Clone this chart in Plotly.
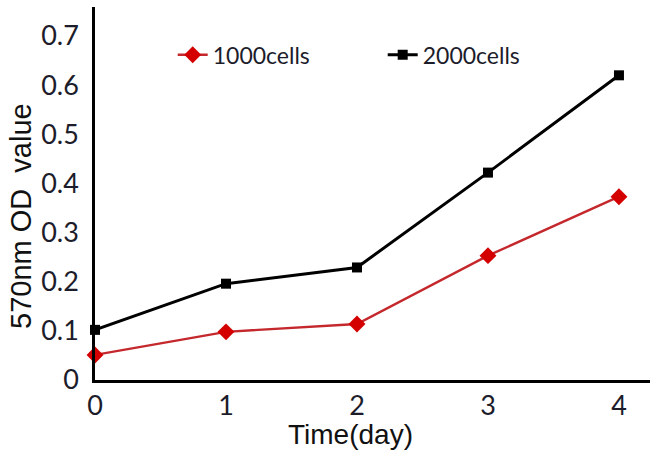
import plotly.graph_objects as go

days = [0, 1, 2, 3, 4]
cells_1000 = [0.051, 0.098, 0.114, 0.253, 0.373]
cells_2000 = [0.102, 0.196, 0.229, 0.422, 0.620]
y_ticks = [0, 0.1, 0.2, 0.3, 0.4, 0.5, 0.6, 0.7]
y_tick_labels = ["0", "0.1", "0.2", "0.3", "0.4", "0.5", "0.6", "0.7"]
x_ticks = [0, 1, 2, 3, 4]

fig = go.Figure()
fig.add_trace(go.Scatter(
    x=days, y=cells_1000, name="1000cells", mode="lines+markers",
    line=dict(color="#c4282c", width=2.4),
    marker=dict(symbol="diamond", size=13, color="#d40000"),
    cliponaxis=False,
))
fig.add_trace(go.Scatter(
    x=days, y=cells_2000, name="2000cells", mode="lines+markers",
    line=dict(color="#000000", width=3),
    marker=dict(symbol="square", size=10, color="#000000"),
    cliponaxis=False,
))

tick_font = dict(family="Lato, 'Open Sans', sans-serif", size=27, color="#1c1c2a")

fig.update_layout(
    width=652, height=454,
    margin=dict(l=95, r=2, t=7, b=74),
    plot_bgcolor="white", paper_bgcolor="white",
    showlegend=True,
    legend=dict(
        orientation="h", x=0.14, xanchor="left", y=0.872, yanchor="middle",
        font=dict(family="Lato, 'Open Sans', sans-serif", size=23, color="#1c1c2a"),
        entrywidth=165, entrywidthmode="pixels",
        bgcolor="rgba(0,0,0,0)",
    ),
    xaxis=dict(
        range=[0, 4.237], tickvals=x_ticks, ticktext=[str(v) for v in x_ticks],
        showline=True, linecolor="black", linewidth=2.5, showgrid=False, zeroline=False,
        ticks="", tickfont=tick_font, ticklabelstandoff=0,
    ),
    yaxis=dict(
        range=[0, 0.759], tickvals=y_ticks, ticktext=y_tick_labels,
        showline=True, linecolor="black", linewidth=2.5, showgrid=False, zeroline=False,
        ticks="", tickfont=tick_font, ticklabelstandoff=8,
    ),
    annotations=[
        dict(text="Time(day)", xref="paper", yref="paper",
             x=(350 - 95) / 555, y=-(434 - 380) / 373, xanchor="center", yanchor="middle",
             showarrow=False, font=dict(family="Liberation Sans, Arial, sans-serif", size=28, color="#111111")),
        dict(text="570nm OD  value", xref="paper", yref="paper", textangle=-90,
             x=-(95 - 21) / 555, y=(380 - 216) / 373, xanchor="center", yanchor="middle",
             showarrow=False, font=dict(family="Liberation Sans, Arial, sans-serif", size=29, color="#111111")),
    ],
)

fig.write_html("out.html", config={"displayModeBar": False},
               post_script="document.body.style.margin='0';document.body.style.overflow='hidden';")
